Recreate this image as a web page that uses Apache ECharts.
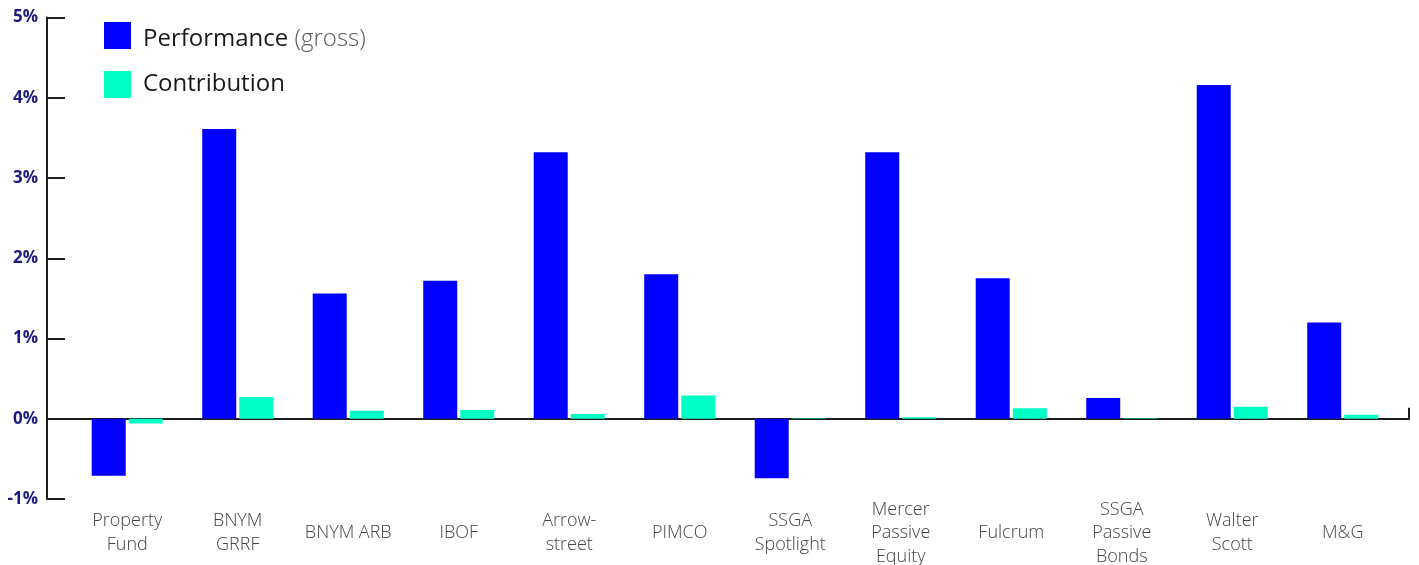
<!DOCTYPE html>
<html>
<head>
<meta charset="utf-8">
<script src="https://cdn.jsdelivr.net/npm/echarts@6/dist/echarts.min.js"></script>
<style>
  html, body { margin: 0; padding: 0; background: #fff; }
  #chart { width: 1419px; height: 565px; }
</style>
</head>
<body>
<div id="chart"></div>
<script>
// Fund names (line breaks as shown under each pair of bars)
const categories = [
  'Property\nFund', 'BNYM\nGRRF', 'BNYM ARB', 'IBOF', 'Arrow-\nstreet', 'PIMCO',
  'SSGA\nSpotlight', 'Mercer\nPassive\nEquity', 'Fulcrum', 'SSGA\nPassive\nBonds',
  'Walter\nScott', 'M&G'
];
// Gross performance, %
const performance = [-0.71, 3.61, 1.56, 1.72, 3.32, 1.80, -0.74, 3.32, 1.75, 0.26, 4.16, 1.20];
// Contribution to total return, %
const contribution = [-0.06, 0.27, 0.10, 0.11, 0.06, 0.29, 0.005, 0.02, 0.13, 0.005, 0.15, 0.05];
// Y axis range and step, %
const yMin = -1, yMax = 5, yStep = 1;

const FONT = '"Open Sans", "Noto Sans", sans-serif';
const AXIS_COLOR = '#1e1e1e';

const chart = echarts.init(document.getElementById('chart'));
chart.setOption({
  animation: false,
  backgroundColor: '#ffffff',
  textStyle: { fontFamily: FONT },
  legend: {
    orient: 'vertical',
    left: 99,
    top: 17,
    itemWidth: 27,
    itemHeight: 27,
    itemGap: 20,
    icon: 'rect',
    data: [
      { name: 'Performance', textStyle: { padding: [7, 0, 0, 7] } },
      { name: 'Contribution' }
    ],
    formatter: function (name) {
      return name === 'Performance' ? '{a|Performance} {b|(gross)}' : '{a|' + name + '}';
    },
    textStyle: {
      fontSize: 24,
      padding: [0, 0, 0, 7],
      rich: {
        a: { fontFamily: FONT, fontSize: 24, color: '#1a1a1a' },
        b: { fontFamily: FONT, fontSize: 24, fontWeight: 300, color: '#5a5a5a' }
      }
    }
  },
  grid: [
    // axis frame: y axis and zero baseline
    { left: 47, right: 10, top: 17.5, bottom: 66, outerBoundsMode: 'none' },
    // bar area
    { left: 72, right: 21, top: 17.5, bottom: 66, outerBoundsMode: 'none' }
  ],
  xAxis: [
    {
      gridIndex: 0,
      type: 'value',
      min: 0, max: 1, interval: 1,
      axisLine: { show: true, onZero: true, lineStyle: { color: AXIS_COLOR, width: 2 } },
      axisTick: { show: true, inside: true, length: 11, lineStyle: { color: AXIS_COLOR, width: 2 } },
      axisLabel: { show: false },
      splitLine: { show: false },
      z: 0
    },
    {
      gridIndex: 1,
      type: 'category',
      data: categories,
      axisLine: { show: false },
      axisTick: { show: false },
      axisLabel: {
        interval: 0,
        margin: 34,
        verticalAlign: 'middle',
        fontFamily: FONT,
        fontSize: 18,
        fontWeight: 300,
        lineHeight: 23.5,
        color: '#444444'
      }
    }
  ],
  yAxis: [
    {
      gridIndex: 0,
      type: 'value',
      min: yMin, max: yMax, interval: yStep,
      axisLine: { show: true, lineStyle: { color: AXIS_COLOR, width: 2 } },
      axisTick: { show: true, inside: true, length: 18, lineStyle: { color: AXIS_COLOR, width: 2 } },
      axisLabel: {
        formatter: '{value}%',
        margin: 9,
        fontFamily: FONT,
        fontSize: 17,
        fontWeight: 'bold',
        color: '#1b1b80'
      },
      splitLine: { show: false }
    },
    {
      gridIndex: 1,
      type: 'value',
      min: yMin, max: yMax, interval: yStep,
      show: false
    }
  ],
  series: [
    {
      name: 'Performance',
      type: 'bar',
      xAxisIndex: 1, yAxisIndex: 1,
      data: performance,
      barWidth: 34,
      barGap: '9%',
      z: 5,
      itemStyle: { color: '#0000ff' }
    },
    {
      name: 'Contribution',
      type: 'bar',
      xAxisIndex: 1, yAxisIndex: 1,
      data: contribution,
      barWidth: 34,
      barGap: '9%',
      z: 5,
      itemStyle: { color: '#00ffc4' }
    }
  ]
});
</script>
</body>
</html>
